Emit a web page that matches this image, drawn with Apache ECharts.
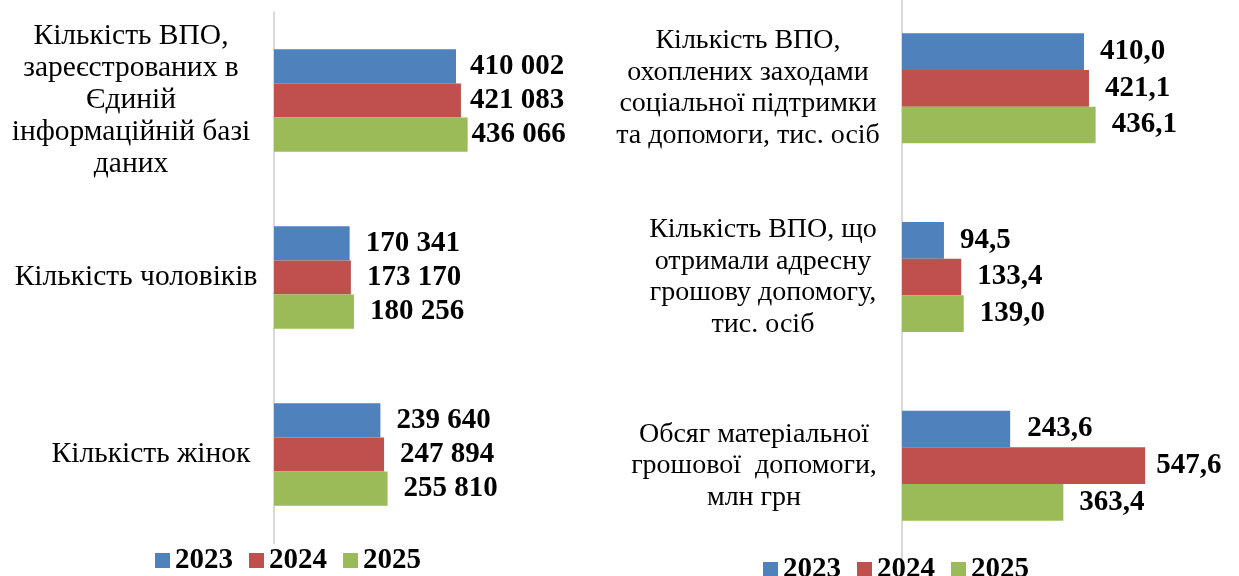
<!DOCTYPE html>
<html>
<head>
<meta charset="utf-8">
<script src="https://cdn.jsdelivr.net/npm/echarts@6/dist/echarts.min.js"></script>
<style>
  html, body { margin: 0; padding: 0; background: #fff; }
  #main { width: 1239px; height: 576px; }
</style>
</head>
<body>
<div id="main"></div>
<script>
// left chart: people counts
var years = ['2023', '2024', '2025'];
var leftCategories = [
  'Кількість ВПО,\nзареєстрованих в\nЄдиній\nінформаційній базі\nданих',
  'Кількість чоловіків',
  'Кількість жінок'
];
var left2023 = [410002, 170341, 239640];
var left2024 = [421083, 173170, 247894];
var left2025 = [436066, 180256, 255810];

// right chart: support measures
var rightCategories = [
  'Кількість ВПО,\nохоплених заходами\nсоціальної підтримки\nта допомоги, тис. осіб',
  'Кількість ВПО, що\nотримали адресну\nгрошову допомогу,\nтис. осіб',
  'Обсяг матеріальної\nгрошової  допомоги,\nмлн грн'
];
var right2023 = [410.0, 94.5, 243.6];
var right2024 = [421.1, 133.4, 547.6];
var right2025 = [436.1, 139.0, 363.4];

var colors = ['#4F81BD', '#C0504D', '#9BBB59'];
var font = "'Liberation Serif', 'Times New Roman', serif";

// some labels in the original sit closer to their bars
var labelDistance = {
  left: [[14, 16, 16], [9, 16, 16], [4, 16, 16]],
  right: [[16, 16, 17], [16, 16, 11], [16, 16, 16]]
};
// horizontal nudge of each category label block (px, + = right)
var catShift = {
  left: [-5, 0, 15],
  right: [-15, 0, -9]
};

function fmtThousands(v) {
  return String(v).replace(/\B(?=(\d{3})+(?!\d))/g, ' ');
}
function fmtDecimal(v) {
  return v.toFixed(1).replace('.', ',');
}

function makeSeries(name, values, idx, side) {
  var isLeft = side === 'left';
  return {
    name: name,
    type: 'bar',
    xAxisIndex: isLeft ? 0 : 1,
    yAxisIndex: isLeft ? 0 : 1,
    barGap: '0%',
    barCategoryGap: isLeft ? '42%' : '41.7%',
    itemStyle: { color: colors[idx] },
    label: {
      show: true,
      position: 'right',
      color: '#000',
      fontFamily: font,
      fontWeight: 'bold',
      fontSize: 29,
      formatter: function (p) {
        return isLeft ? fmtThousands(p.value) : fmtDecimal(p.value);
      }
    },
    data: values.map(function (v, i) {
      return { value: v, label: { distance: labelDistance[side][idx][i] } };
    }),
    animation: false
  };
}

function catAxis(gridIndex, cats, side, fontSize, lineHeight, margin) {
  var rich = {};
  catShift[side].forEach(function (s, i) {
    rich['g' + i] = {
      fontFamily: font,
      fontSize: fontSize,
      lineHeight: lineHeight,
      color: '#000',
      padding: s > 0 ? [0, 0, 0, 2 * s] : [0, -2 * s, 0, 0]
    };
  });
  return {
    type: 'category',
    gridIndex: gridIndex,
    inverse: true,
    data: cats,
    axisTick: { show: false },
    axisLine: { lineStyle: { color: '#D9D9D9', width: 2 } },
    axisLabel: {
      align: 'center',
      margin: margin,
      fontFamily: font,
      fontSize: fontSize,
      lineHeight: lineHeight,
      color: '#000',
      formatter: function (value, index) {
        return value.split('\n').map(function (l) {
          return '{g' + index + '|' + l + '}';
        }).join('\n');
      },
      rich: rich
    }
  };
}

var chart = echarts.init(document.getElementById('main'));

var legendText = { fontFamily: font, fontWeight: 'bold', fontSize: 29, color: '#000' };

var option = {
  backgroundColor: '#fff',
  grid: [
    { left: 274, top: 12, width: 222, height: 531, outerBoundsMode: 'none' },
    { left: 902, top: -6, width: 266.4, height: 566, outerBoundsMode: 'none' }
  ],
  xAxis: [
    { type: 'value', gridIndex: 0, min: 0, max: 500000, show: false },
    { type: 'value', gridIndex: 1, min: 0, max: 600, show: false }
  ],
  yAxis: [
    catAxis(0, leftCategories, 'left', 29.5, 32, 138),
    catAxis(1, rightCategories, 'right', 28, 31.5, 139)
  ],
  legend: [
    {
      data: years,
      left: 150,
      top: 541,
      icon: 'rect',
      itemWidth: 15,
      itemHeight: 15,
      itemGap: 16,
      textStyle: legendText
    },
    {
      data: years,
      left: 758,
      top: 550,
      icon: 'rect',
      itemWidth: 15,
      itemHeight: 15,
      itemGap: 16,
      textStyle: legendText
    }
  ],
  series: [
    makeSeries(years[0], left2023, 0, 'left'),
    makeSeries(years[1], left2024, 1, 'left'),
    makeSeries(years[2], left2025, 2, 'left'),
    makeSeries(years[0], right2023, 0, 'right'),
    makeSeries(years[1], right2024, 1, 'right'),
    makeSeries(years[2], right2025, 2, 'right')
  ]
};

chart.setOption(option);
</script>
</body>
</html>
